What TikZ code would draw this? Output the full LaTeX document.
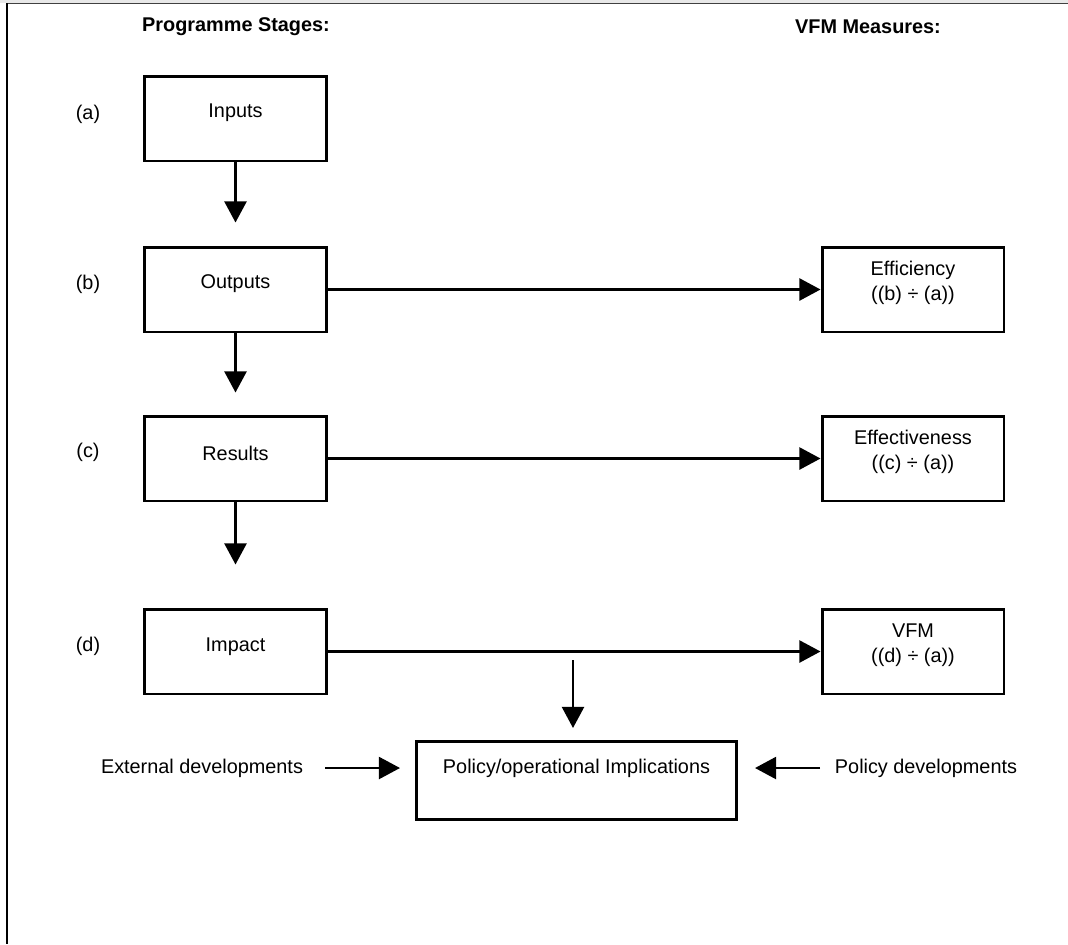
\documentclass[tikz,border=0pt]{standalone}
\usepackage{fontspec}
\setmainfont{Liberation Sans}
\usetikzlibrary{arrows.meta}
\begin{document}
\begin{tikzpicture}[x=0.02cm,y=-0.02cm,
  box/.style={draw=black,line width=1.7pt,minimum width=3.64cm,minimum height=1.7cm,inner sep=0pt},
  txt/.style={font=\fontsize{11.3pt}{14.2pt}\selectfont,align=center,inner sep=0pt},
  hdr/.style={font=\fontsize{11.3pt}{14.2pt}\selectfont\bfseries,inner sep=0pt},
  arr/.style={line width=1.4pt,-{Triangle[length=12pt,width=12.5pt]}}]
\useasboundingbox (0,0) rectangle (1068,944);
\fill[gray!18] (0,0) rectangle (1068,3);
\draw[line width=0.9pt,black!75] (6,3.5) -- (1068,3.5);
\draw[line width=1.2pt] (7,3) -- (7,944);
% headers
\node[hdr] (h1) at (236,27) {Programme Stages:};
\node[hdr] (h2) at (868,27) {VFM Measures:};
% labels
\node[txt] (la) at (88,114) {(a)};
\node[txt] (lb) at (88,284) {(b)};
\node[txt] (lc) at (88,452) {(c)};
\node[txt] (ld) at (88,646) {(d)};
% stage boxes
\node[box] (in) at (235.5,118.5) {};
\node[txt] (intxt) at (235.5,113) {Inputs};
\node[box] (out) at (235.5,289.5) {};
\node[txt] (outtxt) at (235.5,284) {Outputs};
\node[box] (res) at (235.5,458.5) {};
\node[txt] (restxt) at (235.5,453) {Results};
\node[box] (imp) at (235.5,651.5) {};
\node[txt] (imptxt) at (235.5,647) {Impact};
% measure boxes
\node[box] (eff) at (913,289.5) {};
\node[txt] (efftxt) at (913,283) {Efficiency\\((b) ÷ (a))};
\node[box] (effv) at (913,458.5) {};
\node[txt] (effvtxt) at (913,452) {Effectiveness\\((c) ÷ (a))};
\node[box] (vfm) at (913,651.5) {};
\node[txt] (vfmtxt) at (913,645) {VFM\\((d) ÷ (a))};
% policy box
\node[draw=black,line width=1.7pt,minimum width=6.42cm,minimum height=1.56cm,inner sep=0pt] (pol) at (576.5,780) {};
\node[txt] (poltxt) at (576.5,768) {Policy/operational Implications};
\node[txt] (ext) at (202,768) {External developments};
\node[txt] (pdev) at (926,768) {Policy developments};
% arrows
\draw[arr,shorten >=23*0.02cm] (in.south) -- (out.north);
\draw[arr,shorten >=22*0.02cm] (out.south) -- (res.north);
\draw[arr,shorten >=43*0.02cm] (res.south) -- (imp.north);
\draw[arr] (out.east) -- (eff.west);
\draw[arr] (effv.west -| res.east) -- (effv.west);
\draw[arr] (imp.east) -- (vfm.west);
\coordinate (s) at (573,660);
\coordinate (t) at (573,728);
\draw[arr] (s) -- (t);
\coordinate (e1) at (325,768);
\coordinate (e2) at (400,768);
\draw[arr] (e1) -- (e2);
\coordinate (p1) at (820,768);
\coordinate (p2) at (755,768);
\draw[arr] (p1) -- (p2);
\end{tikzpicture}
\end{document}
